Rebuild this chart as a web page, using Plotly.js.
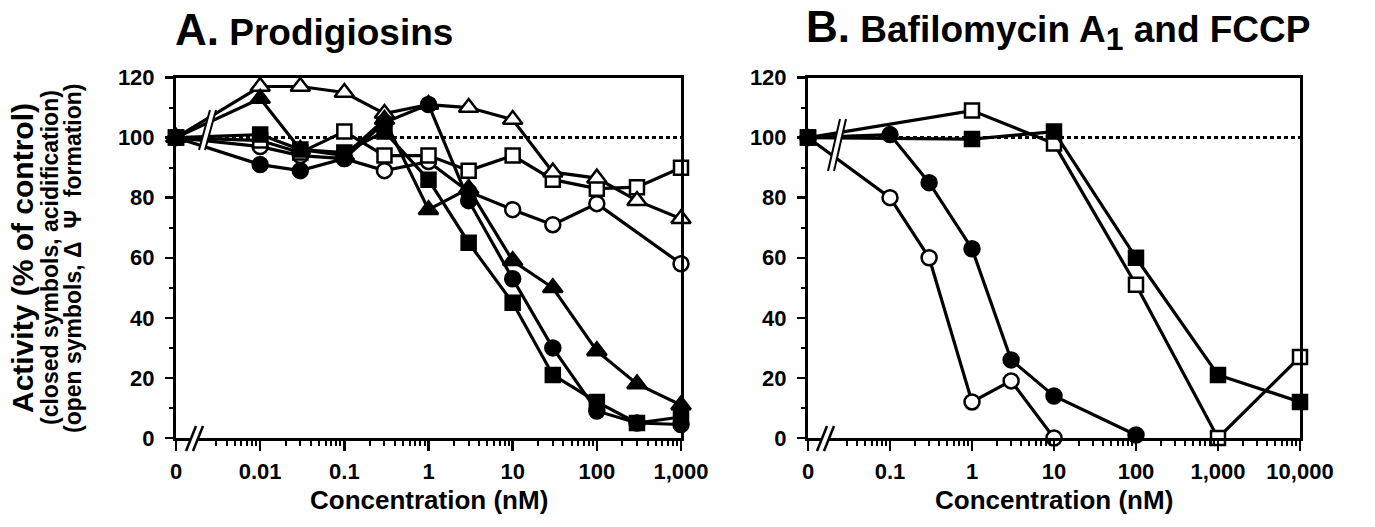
<!DOCTYPE html>
<html><head><meta charset="utf-8">
<script src="https://cdn.plot.ly/plotly-3.0.1.min.js"></script>
<style>html,body{margin:0;padding:0;background:#fff}#chart{width:1375px;height:527px}</style>
</head><body><div id="chart"></div>
<script>
// ---------- Panel A: Prodigiosins ----------
const concA = [0, 0.01, 0.03, 0.1, 0.3, 1, 3, 10, 30, 100, 300, 1000];
const prodClosedCircle   = [100, 91, 89, 93, 105, 111, 79, 53, 30, 9, 5, 4.5];
const prodClosedSquare   = [100, 101, 96, 95, 102, 86, 65, 45, 21, 12, 5, 7];
const prodClosedTriangle = [100, 113, 96, 94, 106, 76, 83, 59, 50, 29, 18, 11];
const concAOpenCircle    = [0, 0.01, 0.03, 0.1, 0.3, 1, 3, 10, 30, 100, 1000];
const prodOpenCircle     = [100, 97, 94, 93, 89, 92, 82, 76, 71, 78, 58];
const prodOpenSquare     = [100, 99, 95, 102, 94, 94, 89, 94, 86, 83, 83.5, 90];
const prodOpenTriangle   = [100, 117, 117, 115, 108, 111, 110, 106, 88.5, 86.5, 79, 73];

// ---------- Panel B: Bafilomycin A1 and FCCP ----------
const concBafClosed = [0, 0.1, 0.3, 1, 3, 10, 100];
const bafClosed     = [100, 101, 85, 63, 26, 14, 1];
const concBafOpen   = [0, 0.1, 0.3, 1, 3, 10];
const bafOpen       = [100, 80, 60, 12, 19, 0];
const concFccp      = [0, 1, 10, 100, 1000, 10000];
const fccpClosed    = [100, 99.5, 102, 60, 21, 12];
const fccpOpen      = [100, 109, 98, 51, 0, 27];

// ---------- ticks ----------
const tickValsA = [0, 0.01, 0.1, 1, 10, 100, 1000];
const tickTextA = ['0', '0.01', '0.1', '1', '10', '100', '1,000'];
const tickValsB = [0, 0.1, 1, 10, 100, 1000, 10000];
const tickTextB = ['0', '0.1', '1', '10', '100', '1,000', '10,000'];
const yTickVals = [0, 20, 40, 60, 80, 100, 120];
const yMinorVals = [10, 30, 50, 70, 90, 110];

// "0" is drawn one decade left of the first non-zero tick (broken axis)
const ZERO_A = 0.001, ZERO_B = 0.01;
const posA = c => c === 0 ? ZERO_A : c;
const posB = c => c === 0 ? ZERO_B : c;

function minorLog(startExp, endExp) {
  const out = [];
  for (let e = startExp; e < endExp; e++) {
    for (let k = 2; k <= 9; k++) {
      if (e === startExp && k < 3) continue; // hidden by the axis break
      out.push(k * Math.pow(10, e));
    }
  }
  return out;
}

const FONT = 'Liberation Sans, Arial, Helvetica, sans-serif';
const W = 1375, H = 527;
const px = x => x / W, py = y => 1 - y / H;

// plot areas (pixels)
const A_L = 176, A_R = 681, B_L = 808, B_R = 1300, TOP = 77.5, BOT = 438;

function series(xs, ys, map, xa, ya, symbol, filled, size) {
  return {
    type: 'scatter', mode: 'lines+markers',
    x: xs.map(map), y: ys, xaxis: xa, yaxis: ya, cliponaxis: false,
    line: {color: 'black', width: 3.2},
    marker: {symbol: symbol, size: size, color: filled ? 'black' : 'white',
             line: {color: 'black', width: 2.5}},
    hoverinfo: 'skip'
  };
}

const data = [
  series(concAOpenCircle, prodOpenCircle, posA, 'x', 'y', 'circle', false, 15),
  series(concA, prodOpenSquare, posA, 'x', 'y', 'square', false, 14),
  series(concA, prodOpenTriangle, posA, 'x', 'y', 'triangle-up', false, 17),
  series(concA, prodClosedCircle, posA, 'x', 'y', 'circle', true, 15),
  series(concA, prodClosedSquare, posA, 'x', 'y', 'square', true, 14),
  series(concA, prodClosedTriangle, posA, 'x', 'y', 'triangle-up', true, 17),

  series(concBafOpen, bafOpen, posB, 'x2', 'y2', 'circle', false, 15),
  series(concFccp, fccpOpen, posB, 'x2', 'y2', 'square', false, 14),
  series(concBafClosed, bafClosed, posB, 'x2', 'y2', 'circle', true, 15),
  series(concFccp, fccpClosed, posB, 'x2', 'y2', 'square', true, 14)
];

const tickFont = {family: FONT, size: 22, color: 'black', weight: 'bold'};

function xAxis(domain, range, vals, text, minor, anchor) {
  return {
    type: 'log', domain: domain, range: range, anchor: anchor,
    tickmode: 'array', tickvals: vals, ticktext: text,
    ticks: 'outside', ticklen: 10, tickwidth: 2.5, tickcolor: 'black',
    showline: true, linewidth: 3, linecolor: 'black', mirror: true,
    showgrid: false, zeroline: false, tickfont: tickFont, ticklabelstandoff: 2,
    minor: {tickmode: 'array', tickvals: minor, ticks: 'outside', ticklen: 5,
            tickwidth: 2, tickcolor: 'black', showgrid: false}
  };
}
function yAxis(anchor) {
  return {
    domain: [py(BOT), py(TOP)], range: [0, 120], anchor: anchor,
    tickmode: 'array', tickvals: yTickVals,
    ticks: 'outside', ticklen: 8, tickwidth: 2.5, tickcolor: 'black',
    showline: true, linewidth: 3, linecolor: 'black', mirror: true,
    showgrid: false, zeroline: false, tickfont: tickFont, ticklabelstandoff: 6,
    minor: {tickmode: 'array', tickvals: yMinorVals, ticks: 'outside', ticklen: 4,
            tickwidth: 2, tickcolor: 'black', showgrid: false}
  };
}

function breakShapes(xl, yb, dx, dy, gap, lw) {
  const p = (x, y) => px(x) + ',' + py(y);
  return [
    {type: 'path', xref: 'paper', yref: 'paper', layer: 'above',
     path: 'M' + p(xl, yb) + ' L' + p(xl + dx, yb - dy) + ' L' + p(xl + dx + gap, yb - dy) + ' L' + p(xl + gap, yb) + ' Z',
     fillcolor: 'white', line: {width: 0}},
    {type: 'line', xref: 'paper', yref: 'paper', layer: 'above',
     x0: px(xl), y0: py(yb), x1: px(xl + dx), y1: py(yb - dy), line: {color: 'black', width: lw}},
    {type: 'line', xref: 'paper', yref: 'paper', layer: 'above',
     x0: px(xl + gap), y0: py(yb), x1: px(xl + dx + gap), y1: py(yb - dy), line: {color: 'black', width: lw}}
  ];
}

const shapes = [
  {type: 'line', xref: 'x domain', yref: 'y', x0: 0, x1: 1, y0: 100, y1: 100, layer: 'below',
   line: {color: 'black', width: 3, dash: '4px,3px'}},
  {type: 'line', xref: 'x2 domain', yref: 'y2', x0: 0, x1: 1, y0: 100, y1: 100, layer: 'below',
   line: {color: 'black', width: 3, dash: '4px,3px'}},
  ...breakShapes(186, 451, 10, 25, 7, 2.5),
  ...breakShapes(817, 451, 10, 25, 7, 2.5),
  ...breakShapes(199, 150, 11, 40, 6, 2),
  ...breakShapes(828, 171, 12, 52, 6, 2)
];

const titleFont = {family: FONT, size: 37, color: 'black'};
const annotations = [
  {xref: 'paper', yref: 'paper', x: px(173), y: py(30), xanchor: 'left', yanchor: 'middle', showarrow: false,
   text: "<b><span style='font-size:44px'>A.</span> Prodigiosins</b>", font: titleFont},
  {xref: 'paper', yref: 'paper', x: px(804), y: py(30), xanchor: 'left', yanchor: 'middle', showarrow: false,
   text: "<b><span style='font-size:44px'>B.</span> Bafilomycin A<sub><span style='font-size:32px'>1</span></sub> and FCCP</b>", font: titleFont},
  {xref: 'paper', yref: 'paper', x: px((A_L + A_R) / 2), y: py(500), xanchor: 'center', yanchor: 'middle', showarrow: false,
   text: '<b>Concentration (nM)</b>', font: {family: FONT, size: 26, color: 'black'}},
  {xref: 'paper', yref: 'paper', x: px((B_L + B_R) / 2), y: py(500), xanchor: 'center', yanchor: 'middle', showarrow: false,
   text: '<b>Concentration (nM)</b>', font: {family: FONT, size: 26, color: 'black'}},
  {xref: 'paper', yref: 'paper', x: px(23), y: py(258), xanchor: 'center', yanchor: 'middle', showarrow: false,
   textangle: -90, text: '<b>Activity (% of control)</b>', font: {family: FONT, size: 30, color: 'black'}},
  {xref: 'paper', yref: 'paper', x: px(50), y: py(258), xanchor: 'center', yanchor: 'middle', showarrow: false,
   textangle: -90, text: '<b>(closed symbols, acidification)</b>', font: {family: FONT, size: 23, color: 'black'}},
  {xref: 'paper', yref: 'paper', x: px(73), y: py(258), xanchor: 'center', yanchor: 'middle', showarrow: false,
   textangle: -90, text: '<b>(open symbols, Δ  Ψ  formation)</b>', font: {family: FONT, size: 23, color: 'black'}}
];

const layout = {
  width: W, height: H, margin: {l: 0, r: 0, t: 0, b: 0},
  paper_bgcolor: 'white', plot_bgcolor: 'white', showlegend: false,
  font: {family: FONT, color: 'black'},
  xaxis: xAxis([px(A_L), px(A_R)], [-3, 3], tickValsA.map(posA), tickTextA, minorLog(-3, 3), 'y'),
  yaxis: yAxis('x'),
  xaxis2: xAxis([px(B_L), px(B_R)], [-2, 4], tickValsB.map(posB), tickTextB, minorLog(-2, 4), 'y2'),
  yaxis2: yAxis('x2'),
  shapes: shapes,
  annotations: annotations
};

Plotly.newPlot('chart', data, layout, {displayModeBar: false, staticPlot: true});
</script>
</body></html>
